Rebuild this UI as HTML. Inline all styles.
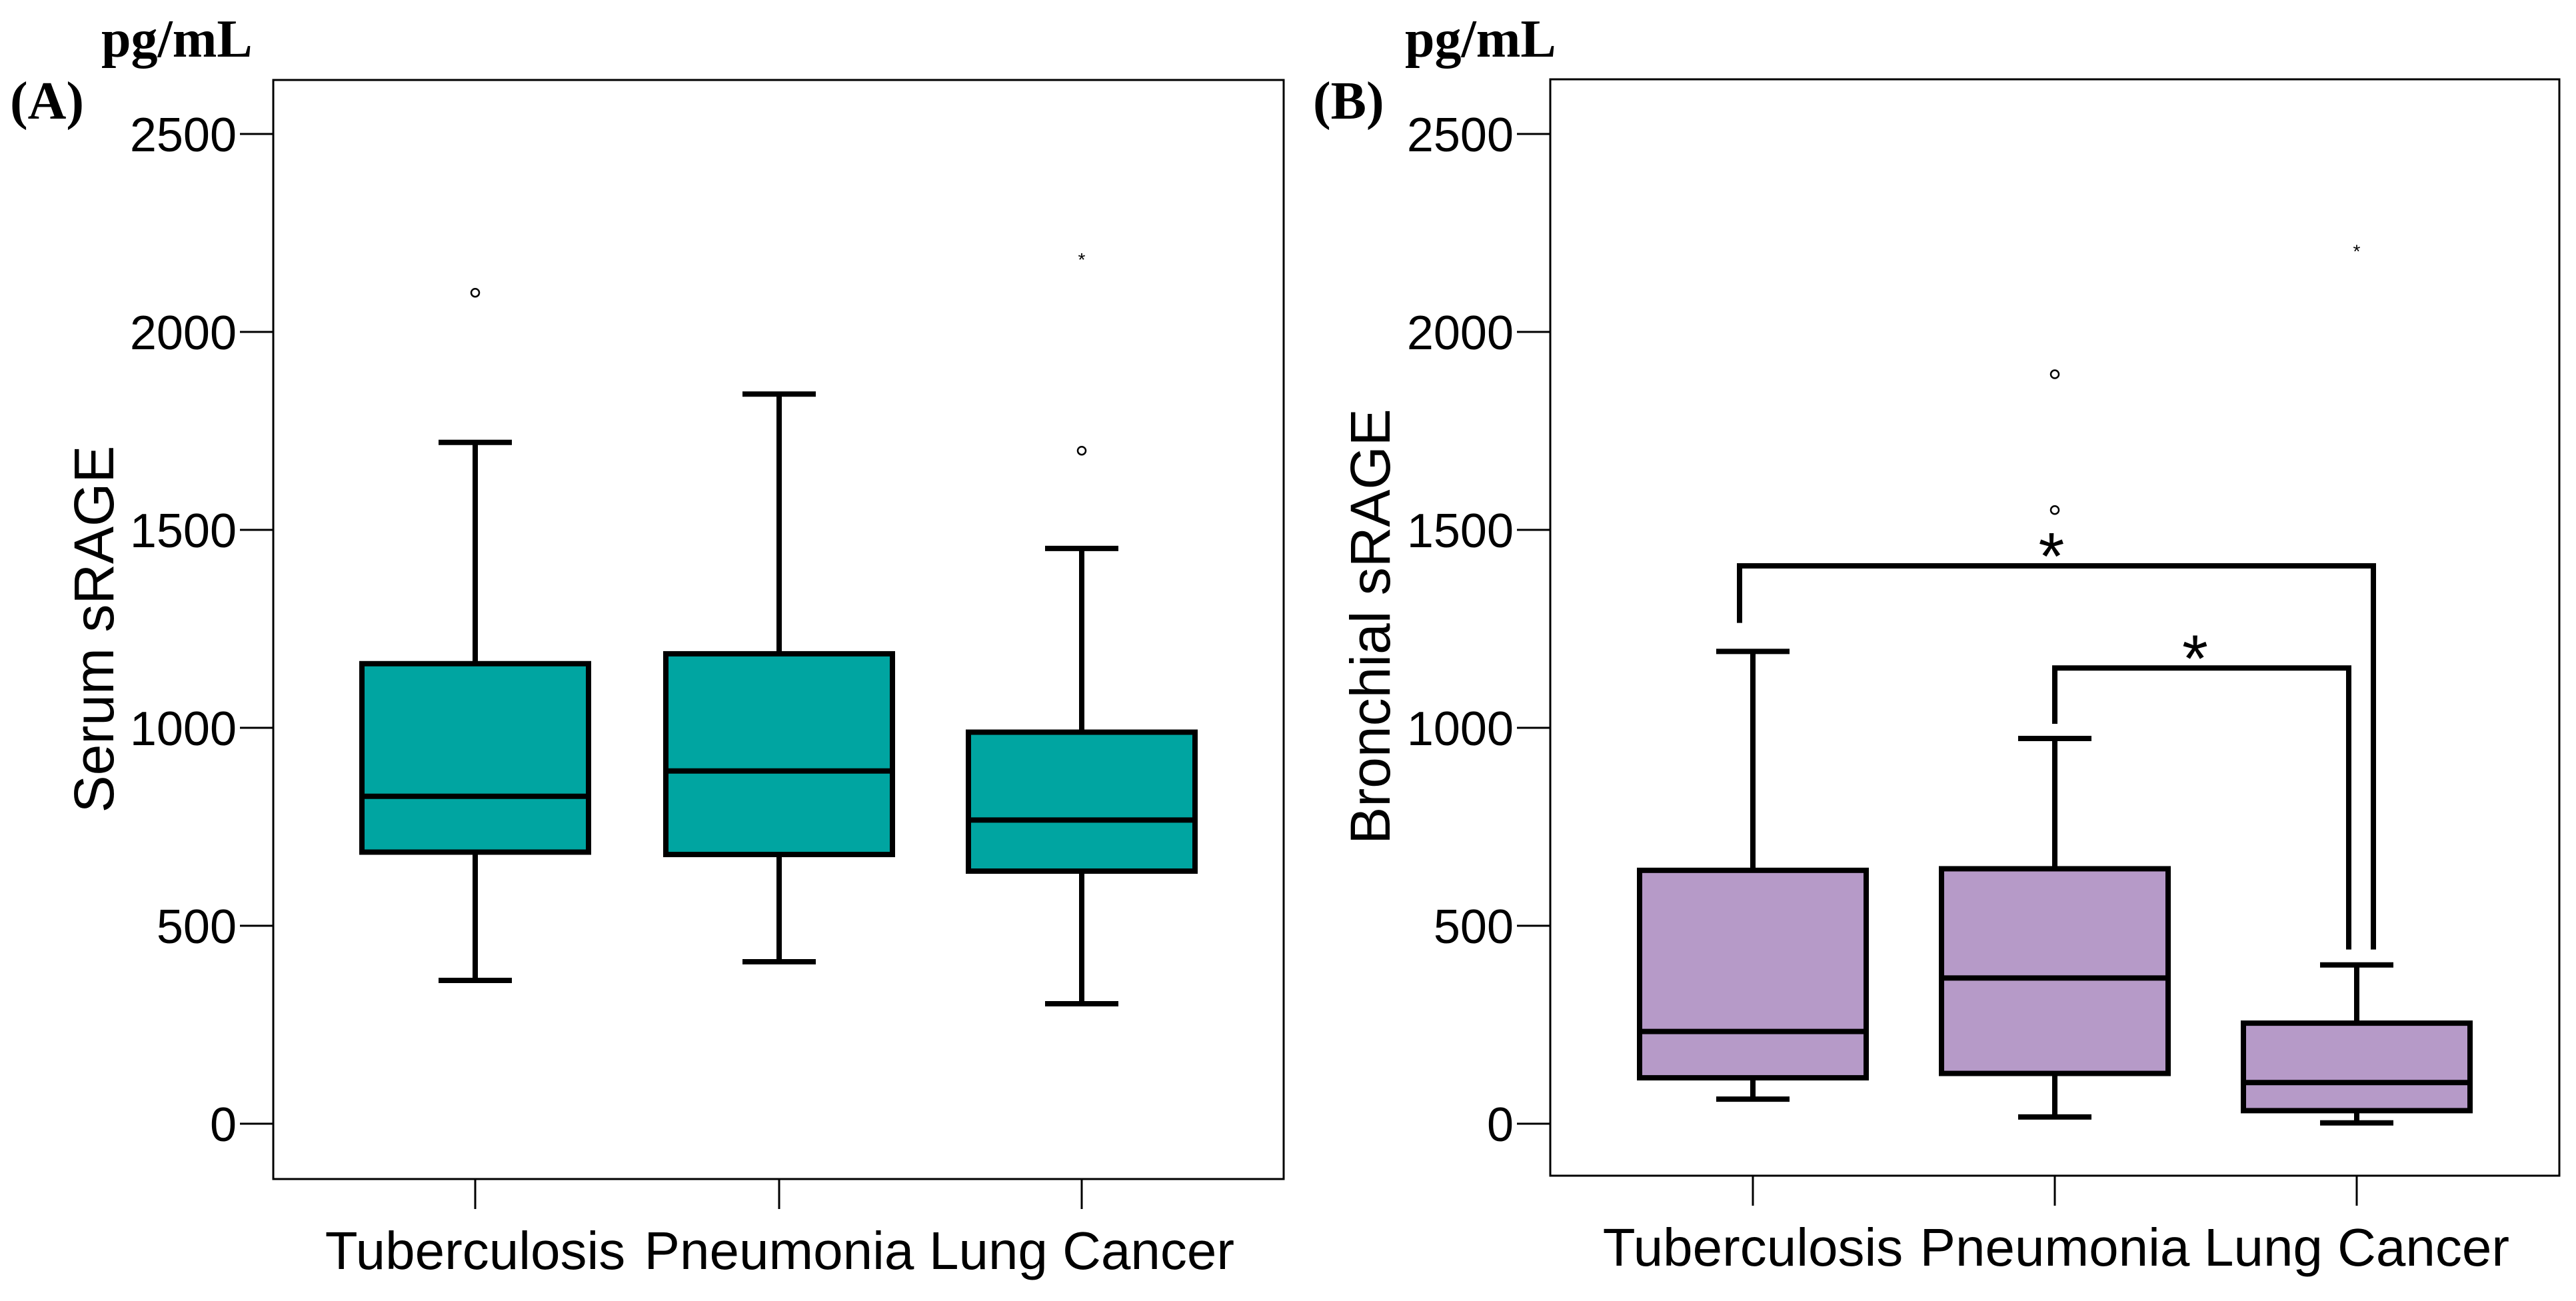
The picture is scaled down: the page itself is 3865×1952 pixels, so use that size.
<!DOCTYPE html>
<html><head><meta charset="utf-8"><style>
html,body{margin:0;padding:0;background:#fff;}
svg{display:block;}
</style></head><body>
<svg id="chart" width="3865" height="1952" viewBox="0 0 3865 1952" xmlns="http://www.w3.org/2000/svg"></svg>
<script>
const categories = ["Tuberculosis", "Pneumonia", "Lung Cancer"];
const yTicks = [0, 500, 1000, 1500, 2000, 2500];
// [low whisker, Q1, median, Q3, high whisker]
const serumStats = [[362, 686, 827, 1162, 1721], [409, 680, 891, 1187, 1843], [303, 638, 767, 989, 1453]];
const serumOutliersCircle = [[0, 2099], [2, 1700]];
const serumOutliersStar = [[2, 2190]];
const bronchStats = [[62, 116, 233, 640, 1193], [17, 127, 368, 644, 973], [2, 33, 104, 254, 401]];
const bronchOutliersCircle = [[1, 1893], [1, 1550]];
const bronchOutliersStar = [[2, 2211]];
// significance brackets: [fromCat, toCat, level]
const brackets = [[0, 2, 1409], [1, 2, 1151]];

const NS = "http://www.w3.org/2000/svg";
const svg = document.getElementById("chart");
function mk(tag, attrs, parent) {
  const e = document.createElementNS(NS, tag);
  for (const k in attrs) e.setAttribute(k, attrs[k]);
  (parent || svg).appendChild(e);
  return e;
}
const Y0 = 1686, Y2500 = 201;
function yScale(v) { return Y0 - (v / 2500) * (Y0 - Y2500); }

function panel(cfg) {
  const g = mk("g", {});
  
  
  const xS = i => cfg.cats[i];
  const frame = mk("rect", {x: cfg.left, y: cfg.top, width: cfg.right - cfg.left, height: cfg.bottom - cfg.top, fill: "none", stroke: "#000", "stroke-width": 3}, g);
  
  
  yTicks.forEach(t => {
    const y = yScale(t);
    const tk = mk("line", {x1: cfg.left - 50, x2: cfg.left, y1: y, y2: y, stroke: "#000", "stroke-width": 3}, g);
    
    
    const tl = mk("text", {x: cfg.left - 55, y: y + 26, "text-anchor": "end", "font-size": 72, "font-family": "Liberation Sans, sans-serif"}, g);
    tl.textContent = t;
    
    
  });
  categories.forEach((c, i) => {
    const x = xS(i);
    const tk = mk("line", {x1: x, x2: x, y1: cfg.bottom, y2: cfg.bottom + 45, stroke: "#000", "stroke-width": 3}, g);
    
    
    const tl = mk("text", {x: x, y: cfg.bottom + 135, "text-anchor": "middle", "font-size": 80, "font-family": "Liberation Sans, sans-serif"}, g);
    tl.textContent = c;
    
    
  });
  const hw = 170, cw = 55;
  cfg.stats.forEach((s, i) => {
    const x = xS(i);
    const bg = mk("g", {stroke: "#000", "stroke-width": 8}, g);
    
    
    mk("line", {x1: x, x2: x, y1: yScale(s[0]), y2: yScale(s[1])}, bg);
    mk("line", {x1: x, x2: x, y1: yScale(s[3]), y2: yScale(s[4])}, bg);
    mk("line", {x1: x - cw, x2: x + cw, y1: yScale(s[0]), y2: yScale(s[0])}, bg);
    mk("line", {x1: x - cw, x2: x + cw, y1: yScale(s[4]), y2: yScale(s[4])}, bg);
    mk("rect", {x: x - hw, y: yScale(s[3]), width: 2 * hw, height: yScale(s[1]) - yScale(s[3]), fill: cfg.color}, bg);
    mk("line", {x1: x - hw, x2: x + hw, y1: yScale(s[2]), y2: yScale(s[2])}, bg);
  });
  cfg.circ.forEach(o => {
    const c = mk("circle", {cx: xS(o[0]), cy: yScale(o[1]), r: 6, fill: "none", stroke: "#000", "stroke-width": 2.5}, g);
    
    
  });
  cfg.star.forEach(o => {
    const t = mk("text", {x: xS(o[0]), y: yScale(o[1]) + 14, "text-anchor": "middle", "font-size": 28, "font-family": "Liberation Sans, sans-serif"}, g);
    t.textContent = "*";
    
    
  });
  const yt = mk("text", {transform: `translate(${cfg.ytX},${cfg.ytY}) rotate(-90)`, "text-anchor": "middle", "font-size": 84, "font-family": "Liberation Sans, sans-serif"}, g);
  yt.textContent = cfg.ytitle;
  
  
  const un = mk("text", {x: cfg.unitX, y: 85, "font-size": 80, "font-weight": "bold", "font-family": "Liberation Serif, serif"}, g);
  un.textContent = "pg/mL";
  
  
  const pl = mk("text", {x: cfg.letterX, y: 178, "font-size": 80, "font-weight": "bold", "font-family": "Liberation Serif, serif"}, g);
  pl.textContent = cfg.letter;
  
  
  return {g, xS};
}

panel({name: "panel-a-serum", left: 410, right: 1926, top: 120, bottom: 1769, cats: [713, 1169, 1623],
  stats: serumStats, circ: serumOutliersCircle, star: serumOutliersStar, color: "#00A5A1",
  ytitle: "Serum sRAGE", ytX: 170, ytY: 944, unitX: 152, letterX: 15, letter: "(A)"});

const pB = panel({name: "panel-b-bronchial", left: 2326, right: 3840, top: 119, bottom: 1764, cats: [2630, 3083, 3536],
  stats: bronchStats, circ: bronchOutliersCircle, star: bronchOutliersStar, color: "#B69AC8",
  ytitle: "Bronchial sRAGE", ytX: 2085, ytY: 940, unitX: 2108, letterX: 1970, letter: "(B)"});

// significance brackets
const bOffsets = [[-20, 25], [0, -12]];
const bStart = [1265, 1010];
const bEnd = [440, 440];
brackets.forEach((b, k) => {
  const x1 = pB.xS(b[0]) + bOffsets[k][0], x2 = pB.xS(b[1]) + bOffsets[k][1];
  const y = yScale(b[2]);
  const p = mk("polyline", {points: `${x1},${yScale(bStart[k])} ${x1},${y} ${x2},${y} ${x2},${yScale(bEnd[k])}`, fill: "none", stroke: "#000", "stroke-width": 8});
  
  
  const st = mk("text", {x: (k === 0 ? pB.xS(1) - 5 : (x1 + x2) / 2 - 10), y: y + 20, "text-anchor": "middle", "font-size": 100, "font-family": "Liberation Sans, sans-serif"});
  st.textContent = "*";
  
  
});
</script>
</body></html>
